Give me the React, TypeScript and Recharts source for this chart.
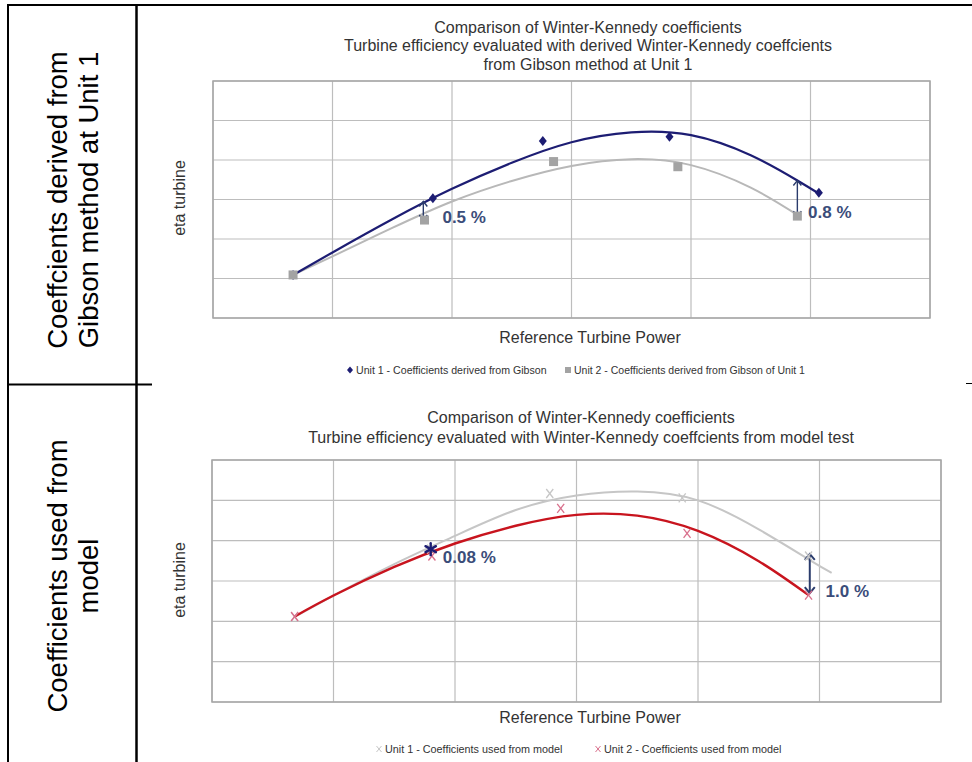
import React from "react";
import {
  ComposedChart,
  Line,
  Scatter,
  XAxis,
  YAxis,
  CartesianGrid,
  ReferenceArea,
  ReferenceLine,
  ReferenceDot,
} from "recharts";

const FONT = "'Liberation Sans', Arial, Helvetica, sans-serif";

const COLORS = {
  navy: "#1d1d73",
  gibsonGray: "#a3a3a3",
  gibsonGrayLine: "#b8b8b8",
  red: "#c8141e",
  pink: "#d9708c",
  modelGray: "#c6c6c6",
  note: "#3b4d7a",
  arrow: "#2b3c6c",
  grid: "#bdbdbd",
  frame: "#a6a6a6",
  text: "#333333",
};

// both plots use a 6 x 6 grid with no tick labels
const gridTicks = [0, 1, 2, 3, 4, 5, 6];

// --- top chart: coefficients derived from Gibson ---
const gibsonUnit1 = [
  { x: 0.67, y: 1.09 },
  { x: 1.84, y: 3.03 },
  { x: 2.76, y: 4.48 },
  { x: 3.82, y: 4.59 },
  { x: 5.07, y: 3.17 },
];
const gibsonUnit2 = [
  { x: 0.67, y: 1.09 },
  { x: 1.77, y: 2.48 },
  { x: 2.85, y: 3.96 },
  { x: 3.89, y: 3.83 },
  { x: 4.89, y: 2.58 },
];
// trend curves
const gibsonTrend1 = [
  { x: 0.67, y: 1.09 },
  { x: 1.0, y: 1.66 },
  { x: 1.5, y: 2.5 },
  { x: 2.0, y: 3.27 },
  { x: 2.5, y: 3.93 },
  { x: 3.0, y: 4.45 },
  { x: 3.5, y: 4.7 },
  { x: 4.0, y: 4.63 },
  { x: 4.5, y: 4.12 },
  { x: 4.89, y: 3.48 },
  { x: 5.07, y: 3.15 },
];
const gibsonTrend2 = [
  { x: 0.67, y: 1.09 },
  { x: 1.0, y: 1.56 },
  { x: 1.5, y: 2.28 },
  { x: 2.0, y: 2.95 },
  { x: 2.5, y: 3.47 },
  { x: 3.0, y: 3.85 },
  { x: 3.5, y: 4.02 },
  { x: 4.0, y: 3.87 },
  { x: 4.5, y: 3.3 },
  { x: 4.89, y: 2.61 },
];
const gibsonGaps = [
  { x: 1.76, top: 2.95, bottom: 2.48 },
  { x: 4.89, top: 3.48, bottom: 2.58 },
];
const gibsonNotes = [
  { x: 1.92, y: 2.56, text: "0.5 %" },
  { x: 4.98, y: 2.69, text: "0.8 %" },
];

// --- bottom chart: coefficients from model test ---
const modelUnit1 = [
  { x: 0.68, y: 2.11 },
  { x: 1.8, y: 3.79 },
  { x: 2.78, y: 5.17 },
  { x: 3.87, y: 5.06 },
  { x: 4.91, y: 3.62 },
];
const modelUnit2 = [
  { x: 0.68, y: 2.12 },
  { x: 1.81, y: 3.62 },
  { x: 2.87, y: 4.8 },
  { x: 3.91, y: 4.18 },
  { x: 4.91, y: 2.65 },
];
const modelTrend1 = [
  { x: 0.68, y: 2.11 },
  { x: 1.0, y: 2.64 },
  { x: 1.5, y: 3.42 },
  { x: 2.0, y: 4.12 },
  { x: 2.5, y: 4.76 },
  { x: 3.0, y: 5.12 },
  { x: 3.5, y: 5.22 },
  { x: 4.0, y: 5.0 },
  { x: 4.5, y: 4.28 },
  { x: 4.92, y: 3.52 },
  { x: 5.1, y: 3.2 },
];
const modelTrend2 = [
  { x: 0.68, y: 2.12 },
  { x: 1.0, y: 2.64 },
  { x: 1.5, y: 3.35 },
  { x: 2.0, y: 3.93 },
  { x: 2.5, y: 4.37 },
  { x: 3.0, y: 4.64 },
  { x: 3.5, y: 4.62 },
  { x: 4.0, y: 4.24 },
  { x: 4.5, y: 3.49 },
  { x: 4.91, y: 2.65 },
];
const modelMarked = [{ x: 1.8, y: 3.79 }];
const modelGaps = [{ x: 4.92, top: 3.67, bottom: 2.7 }];
const modelNotes = [
  { x: 1.9, y: 3.59, text: "0.08 %" },
  { x: 5.05, y: 2.75, text: "1.0 %" },
];

// marker shapes
const diamondShape = (p: any) => (
  <polygon
    points={`${p.cx},${p.cy - 5} ${p.cx + 4},${p.cy} ${p.cx},${p.cy + 5} ${p.cx - 4},${p.cy}`}
    fill={COLORS.navy}
  />
);
const squareShape = (p: any) => (
  <rect x={p.cx - 4.5} y={p.cy - 4.5} width={9} height={9} fill={COLORS.gibsonGray} />
);
const crossShape = (color: string) => (p: any) => (
  <g stroke={color} strokeWidth={1.3}>
    <line x1={p.cx - 3.5} y1={p.cy - 4.5} x2={p.cx + 3.5} y2={p.cy + 4.5} />
    <line x1={p.cx - 3.5} y1={p.cy + 4.5} x2={p.cx + 3.5} y2={p.cy - 4.5} />
  </g>
);
const starShape = (p: any) => (
  <g stroke={COLORS.navy} strokeWidth={2.4} strokeLinecap="round">
    <line x1={p.cx} y1={p.cy - 6} x2={p.cx} y2={p.cy + 6} />
    <line x1={p.cx - 5.2} y1={p.cy - 3} x2={p.cx + 5.2} y2={p.cy + 3} />
    <line x1={p.cx - 5.2} y1={p.cy + 3} x2={p.cx + 5.2} y2={p.cy - 3} />
  </g>
);

const arrowShape = (w: number, head: number) => (p: any) => {
  const x = p.x1;
  const top = Math.min(p.y1, p.y2);
  const bot = Math.max(p.y1, p.y2);
  return (
    <g stroke={COLORS.arrow} strokeWidth={w} fill="none">
      <line x1={x} y1={top} x2={x} y2={bot} />
      <polyline points={`${x - head},${top + head + 1} ${x},${top} ${x + head},${top + head + 1}`} />
      <polyline points={`${x - head},${bot - head - 1} ${x},${bot} ${x + head},${bot - head - 1}`} />
    </g>
  );
};

const noteShape = (text: string) => (p: any) => (
  <text
    x={p.cx}
    y={p.cy}
    dy="0.36em"
    fill={COLORS.note}
    fontSize={17}
    fontWeight="bold"
    fontFamily={FONT}
  >
    {text}
  </text>
);

function TitleBlock({ lines, cx, top, lh }: { lines: string[]; cx: number; top: number; lh: number }) {
  return (
    <div
      style={{
        position: "absolute",
        left: cx - 350,
        top,
        width: 700,
        textAlign: "center",
        fontSize: 16,
        lineHeight: `${lh}px`,
        color: COLORS.text,
      }}
    >
      {lines.map((l) => (
        <div key={l}>{l}</div>
      ))}
    </div>
  );
}

function AxisTitles({ yc, xc }: { yc: [number, number]; xc: [number, number] }) {
  return (
    <>
      <div
        style={{
          position: "absolute",
          left: yc[0] - 60,
          top: yc[1] - 10,
          width: 120,
          height: 20,
          lineHeight: "20px",
          textAlign: "center",
          fontSize: 16,
          color: COLORS.text,
          transform: "rotate(-90deg)",
        }}
      >
        eta turbine
      </div>
      <div
        style={{
          position: "absolute",
          left: xc[0] - 150,
          top: xc[1] - 10,
          width: 300,
          lineHeight: "20px",
          textAlign: "center",
          fontSize: 16,
          color: COLORS.text,
        }}
      >
        Reference Turbine Power
      </div>
    </>
  );
}

function LegendItem({ left, top, marker, label, size }: any) {
  return (
    <div
      style={{
        position: "absolute",
        left,
        top: top - 7,
        height: 14,
        display: "flex",
        alignItems: "center",
        whiteSpace: "nowrap",
        fontSize: size,
        color: COLORS.text,
      }}
    >
      <svg width={8} height={10} style={{ marginRight: 2 }}>
        {marker({ cx: 4, cy: 5 })}
      </svg>
      {label}
    </div>
  );
}

const smallDiamond = (p: any) => (
  <polygon points={`${p.cx},${p.cy - 3.5} ${p.cx + 3},${p.cy} ${p.cx},${p.cy + 3.5} ${p.cx - 3},${p.cy}`} fill={COLORS.navy} />
);
const smallSquare = (p: any) => (
  <rect x={p.cx - 3} y={p.cy - 3} width={6} height={6} fill={COLORS.gibsonGray} />
);
const smallCross = (color: string) => (p: any) => (
  <g stroke={color} strokeWidth={1}>
    <line x1={p.cx - 2.5} y1={p.cy - 3} x2={p.cx + 2.5} y2={p.cy + 3} />
    <line x1={p.cx - 2.5} y1={p.cy + 3} x2={p.cx + 2.5} y2={p.cy - 3} />
  </g>
);

function GibsonChart() {
  return (
    <div style={{ position: "absolute", left: 150, top: 0, width: 822, height: 385 }}>
      <TitleBlock
        cx={438}
        top={19}
        lh={18.3}
        lines={[
          "Comparison of Winter-Kennedy coefficients",
          "Turbine efficiency evaluated with derived Winter-Kennedy coeffcients",
          "from Gibson method at Unit 1",
        ]}
      />
      <ComposedChart width={822} height={385} margin={{ top: 81, right: 42, bottom: 67, left: 63 }}>
        <XAxis type="number" dataKey="x" domain={[0, 6]} ticks={gridTicks} hide allowDataOverflow />
        <YAxis type="number" dataKey="y" domain={[0, 6]} ticks={gridTicks} hide allowDataOverflow />
        <CartesianGrid stroke={COLORS.grid} strokeWidth={1.2} />
        <ReferenceArea x1={0} x2={6} y1={0} y2={6} fill="none" fillOpacity={0} stroke={COLORS.frame} strokeWidth={1.5} />
        <Line data={gibsonTrend2} dataKey="y" type="natural" stroke={COLORS.gibsonGrayLine} strokeWidth={2} dot={false} isAnimationActive={false} />
        <Line data={gibsonTrend1} dataKey="y" type="natural" stroke={COLORS.navy} strokeWidth={2.2} dot={false} isAnimationActive={false} />
        <Scatter data={gibsonUnit1} shape={diamondShape} isAnimationActive={false} />
        <Scatter data={gibsonUnit2} shape={squareShape} isAnimationActive={false} />
        {gibsonGaps.map((g, i) => (
          <ReferenceLine key={`g${i}`} segment={[{ x: g.x, y: g.top }, { x: g.x, y: g.bottom }]} shape={arrowShape(1.4, 4)} />
        ))}
        {gibsonNotes.map((n) => (
          <ReferenceDot key={n.text} x={n.x} y={n.y} r={0} shape={noteShape(n.text)} />
        ))}
      </ComposedChart>
      <AxisTitles yc={[30, 198]} xc={[440, 338]} />
      <LegendItem left={196} top={370} size={10.6} marker={smallDiamond} label="Unit 1 - Coefficients derived from Gibson" />
      <LegendItem left={414} top={370} size={10.5} marker={smallSquare} label="Unit 2 - Coefficients derived from Gibson of Unit 1" />
    </div>
  );
}

function ModelChart() {
  return (
    <div style={{ position: "absolute", left: 150, top: 385, width: 822, height: 377 }}>
      <TitleBlock
        cx={431}
        top={23}
        lh={19.5}
        lines={[
          "Comparison of Winter-Kennedy coefficients",
          "Turbine efficiency evaluated with Winter-Kennedy coeffcients from model test",
        ]}
      />
      <ComposedChart width={822} height={377} margin={{ top: 75, right: 31, bottom: 60, left: 62 }}>
        <XAxis type="number" dataKey="x" domain={[0, 6]} ticks={gridTicks} hide allowDataOverflow />
        <YAxis type="number" dataKey="y" domain={[0, 6]} ticks={gridTicks} hide allowDataOverflow />
        <CartesianGrid stroke={COLORS.grid} strokeWidth={1.2} />
        <ReferenceArea x1={0} x2={6} y1={0} y2={6} fill="none" fillOpacity={0} stroke={COLORS.frame} strokeWidth={1.5} />
        <Line data={modelTrend1} dataKey="y" type="natural" stroke={COLORS.modelGray} strokeWidth={2} dot={false} isAnimationActive={false} />
        <Line data={modelTrend2} dataKey="y" type="natural" stroke={COLORS.red} strokeWidth={2.4} dot={false} isAnimationActive={false} />
        <Scatter data={modelUnit1} shape={crossShape(COLORS.modelGray)} isAnimationActive={false} />
        <Scatter data={modelUnit2} shape={crossShape(COLORS.pink)} isAnimationActive={false} />
        <Scatter data={modelMarked} shape={starShape} isAnimationActive={false} />
        {modelGaps.map((g, i) => (
          <ReferenceLine key={`m${i}`} segment={[{ x: g.x, y: g.top }, { x: g.x, y: g.bottom }]} shape={arrowShape(2, 5)} />
        ))}
        {modelNotes.map((n) => (
          <ReferenceDot key={n.text} x={n.x} y={n.y} r={0} shape={noteShape(n.text)} />
        ))}
      </ComposedChart>
      <AxisTitles yc={[30, 195]} xc={[440, 333]} />
      <LegendItem left={225} top={364} size={10.8} marker={smallCross(COLORS.modelGray)} label="Unit 1 - Coefficients used from model" />
      <LegendItem left={444} top={364} size={10.8} marker={smallCross(COLORS.pink)} label="Unit 2 - Coefficients used from model" />
    </div>
  );
}

export default function App() {
  const side = { fontSize: 27.5, fill: "#000", fontFamily: FONT, textAnchor: "middle" as const };
  return (
    <div
      style={{
        position: "absolute",
        left: 0,
        top: 0,
        width: 972,
        height: 762,
        overflow: "hidden",
        background: "#fff",
        fontFamily: FONT,
      }}
    >
      <GibsonChart />
      <ModelChart />
      <svg width={972} height={762} style={{ position: "absolute", left: 0, top: 0, pointerEvents: "none" }}>
        <line x1={7} y1={5} x2={972} y2={5} stroke="#000" strokeWidth={2} />
        <line x1={8} y1={4} x2={8} y2={762} stroke="#000" strokeWidth={2} />
        <line x1={136.5} y1={4} x2={136.5} y2={762} stroke="#000" strokeWidth={2.5} />
        <line x1={8} y1={384.5} x2={152} y2={384.5} stroke="#000" strokeWidth={2} />
        <line x1={966} y1={383.5} x2={972} y2={383.5} stroke="#000" strokeWidth={1} />
        <text transform="translate(67,200) rotate(-90)" {...side}>Coeffcients derived from</text>
        <text transform="translate(98,200) rotate(-90)" {...side}>Gibson method at Unit 1</text>
        <text transform="translate(67,576) rotate(-90)" {...side}>Coefficients used from</text>
        <text transform="translate(98,576) rotate(-90)" {...side}>model</text>
      </svg>
    </div>
  );
}
